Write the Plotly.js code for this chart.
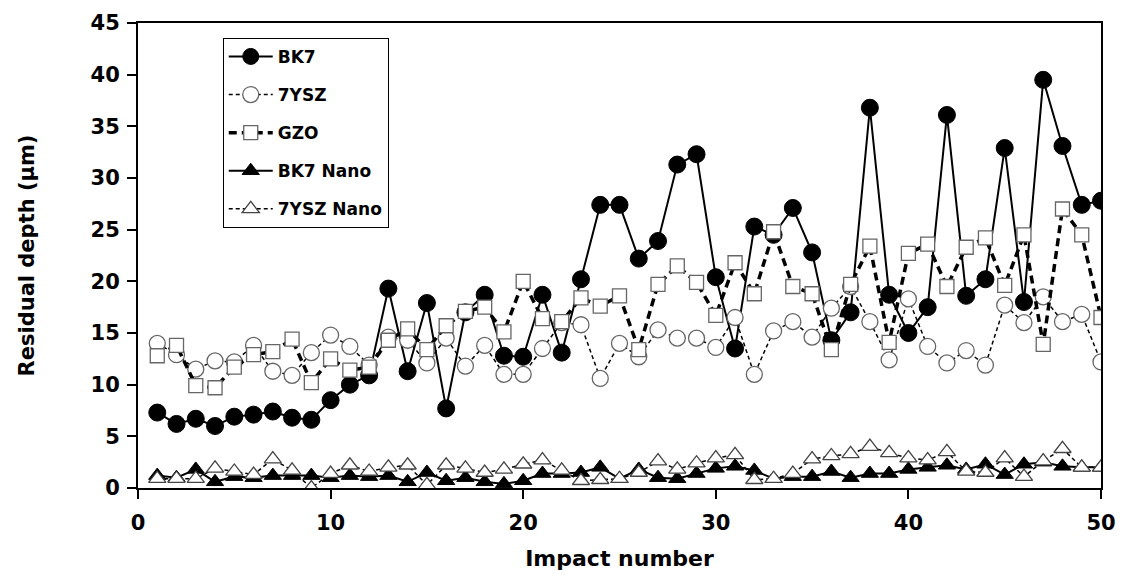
<!DOCTYPE html>
<html>
<head>
<meta charset="utf-8">
<script src="https://cdn.plot.ly/plotly-3.0.1.min.js"></script>
<style>html,body{margin:0;padding:0;background:#fff;}#chart{width:1124px;height:583px;}</style>
</head>
<body>
<div id="chart"></div>
<script>
const impacts = [1,2,3,4,5,6,7,8,9,10,11,12,13,14,15,16,17,18,19,20,21,22,23,24,25,26,27,28,29,30,31,32,33,34,35,36,37,38,39,40,41,42,43,44,45,46,47,48,49,50];
const bk7 = [7.3,6.2,6.7,6.0,6.9,7.1,7.4,6.8,6.6,8.5,10.0,10.9,19.3,11.3,17.9,7.7,17.0,18.7,12.8,12.7,18.7,13.1,20.2,27.4,27.4,22.2,23.9,31.3,32.3,20.4,13.5,25.3,24.5,27.1,22.8,14.3,17.0,36.8,18.7,15.0,17.5,36.1,18.6,20.2,32.9,18.0,39.5,33.1,27.4,27.8];
const ysz = [14.0,12.9,11.5,12.3,12.2,13.8,11.3,10.9,13.1,14.8,13.7,11.9,14.6,14.3,12.1,14.5,11.8,13.8,11.0,11.0,13.5,16.0,15.8,10.6,14.0,12.7,15.3,14.5,14.5,13.6,16.5,11.0,15.2,16.1,14.6,17.4,19.5,16.1,12.4,18.3,13.7,12.1,13.3,11.9,17.7,16.0,18.5,16.1,16.8,12.2];
const gzo = [12.8,13.8,9.9,9.7,11.7,12.9,13.2,14.4,10.2,12.5,11.4,11.7,14.3,15.4,13.4,15.7,17.1,17.5,15.1,20.0,16.4,16.1,18.4,17.6,18.6,13.4,19.7,21.5,19.9,16.7,21.8,18.8,24.8,19.5,18.8,13.4,19.7,23.4,14.1,22.7,23.6,19.5,23.3,24.2,19.6,24.5,13.9,27.0,24.5,16.5];
const bk7Nano = [1.2,1.0,1.8,0.6,1.1,1.0,1.2,1.2,1.2,1.0,1.2,1.1,1.2,0.6,1.5,0.7,1.0,0.6,0.4,0.7,1.4,1.4,1.5,2.0,0.9,1.8,1.0,0.9,1.4,1.9,2.1,1.7,0.9,1.1,1.1,1.6,1.0,1.4,1.4,1.8,2.0,2.2,1.8,2.3,1.3,2.3,2.5,2.1,2.0,2.0];
const yszNano = [0.9,0.9,0.9,1.9,1.6,1.3,2.8,1.7,0.0,1.4,2.2,1.6,2.0,2.2,0.3,2.2,1.9,1.5,1.8,2.3,2.7,1.7,0.7,0.8,0.9,1.5,2.6,1.8,2.4,2.9,3.2,0.8,0.9,1.4,2.8,3.1,3.3,4.0,3.4,2.9,2.7,3.5,1.6,1.5,2.9,1.1,2.6,3.8,2.0,2.0];
const seriesNames = ['BK7','7YSZ','GZO','BK7 Nano','7YSZ Nano'];
const xTicks = [0,10,20,30,40,50];
const yTicks = [0,5,10,15,20,25,30,35,40,45];

const FONT = '"DejaVu Sans", sans-serif';
const traces = [
  {x: impacts, y: bk7, name: seriesNames[0], legendgroup:'a', mode:'lines+markers',
   line:{color:'#000', width:2}, marker:{symbol:'circle', size:17, color:'#000', line:{color:'#000', width:1}}},
  {x: impacts, y: ysz, name: seriesNames[1], legendgroup:'b', mode:'lines+markers',
   line:{color:'#000', width:1.5, dash:'4px,3px'}, marker:{symbol:'circle', size:16, color:'#fff', line:{color:'#666', width:1.3}}},
  {x: impacts, y: gzo, name: seriesNames[2], legendgroup:'c', mode:'lines+markers',
   line:{color:'#000', width:3.5, dash:'8px,5px'}, marker:{symbol:'square', size:14, color:'#fff', line:{color:'#666', width:1.3}}},
  {x: impacts, y: bk7Nano, name: seriesNames[3], legendgroup:'d', mode:'lines+markers',
   line:{color:'#000', width:2}, marker:{symbol:'triangle-up', size:15, color:'#000', line:{color:'#000', width:1}}},
  {x: impacts, y: yszNano, name: seriesNames[4], legendgroup:'e', mode:'lines+markers',
   line:{color:'#000', width:1.5, dash:'4px,3px'}, marker:{symbol:'triangle-up', size:15, color:'#fff', line:{color:'#444', width:1.3}}}
];

const layout = {
  width:1124, height:583,
  margin:{l:138, r:23, t:23, b:95},
  paper_bgcolor:'#fff', plot_bgcolor:'#fff',
  font:{family:FONT, color:'#000'},
  showlegend:true,
  legend:{x:0.088, y:0.968, xanchor:'left', yanchor:'top', bgcolor:'#fff', bordercolor:'#000', borderwidth:1,
    itemwidth:44,
    font:{family:FONT, size:17, color:'#000', weight:'bold'}, tracegroupgap:13},
  xaxis:{range:[0,50], tickvals:xTicks, ticktext:xTicks.map(String), ticks:'outside', ticklen:9, tickwidth:2, tickcolor:'#000',
    showline:true, linewidth:2, linecolor:'#000', mirror:true, showgrid:false, zeroline:false,
    ticklabelstandoff:6,
    tickfont:{family:FONT, size:21, color:'#000', weight:'bold'},
    title:{text:'Impact number', font:{family:FONT, size:22, color:'#000', weight:'bold'}, standoff:16}},
  yaxis:{range:[0,45], tickvals:yTicks, ticktext:yTicks.map(String), ticks:'outside', ticklen:9, tickwidth:2, tickcolor:'#000',
    showline:true, linewidth:2, linecolor:'#000', mirror:true, showgrid:false, zeroline:false,
    ticklabelstandoff:3,
    tickfont:{family:FONT, size:21, color:'#000', weight:'bold'},
    title:{text:'Residual depth (μm)', font:{family:FONT, size:21, color:'#000', weight:'bold'}, standoff:50}}
};
Plotly.newPlot('chart', traces, layout, {displayModeBar:false, staticPlot:true});
</script>
</body>
</html>
